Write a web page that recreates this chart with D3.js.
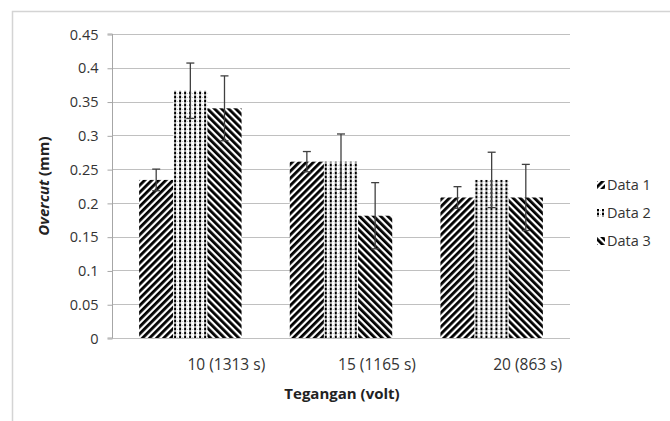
<!DOCTYPE html>
<html>
<head>
<meta charset="utf-8">
<script src="https://cdn.jsdelivr.net/npm/d3@7"></script>
<style>
  body { margin: 0; background: #fff; }
  text { font-family: "Open Sans", "Liberation Sans", sans-serif; }
</style>
</head>
<body>
<div id="chart"></div>
<script>
// chart data
const categories = ["10 (1313 s)", "15 (1165 s)", "20 (863 s)"];
const seriesNames = ["Data 1", "Data 2", "Data 3"];
const data1 = [0.234, 0.261, 0.208];
const data2 = [0.366, 0.261, 0.234];
const data3 = [0.340, 0.181, 0.208];
const err1 = [0.016, 0.015, 0.016];
const err2 = [0.041, 0.041, 0.041];
const err3 = [0.048, 0.049, 0.049];
const yTicks = [0, 0.05, 0.1, 0.15, 0.2, 0.25, 0.3, 0.35, 0.4, 0.45];

const width = 670, height = 421;
const plotLeft = 112, plotRight = 570, plotTop = 34, plotBottom = 338;

const svg = d3.select('#chart').append('svg')
    .attr('width', width).attr('height', height);

// patterns
const defs = svg.append('defs');
function stripes(id, angle) {
    const p = defs.append('pattern')
        .attr('id', id)
        .attr('patternUnits', 'userSpaceOnUse')
        .attr('width', 5).attr('height', 5)
        .attr('patternTransform', 'rotate(' + angle + ')');
    p.append('rect').attr('width', 5).attr('height', 5).attr('fill', '#fff');
    p.append('rect').attr('width', 2.8).attr('height', 5).attr('fill', '#000');
}
stripes('pat1', 45);
stripes('pat3', -45);
const p2 = defs.append('pattern')
    .attr('id', 'pat2')
    .attr('patternUnits', 'userSpaceOnUse')
    .attr('width', 5).attr('height', 4);
p2.append('rect').attr('width', 5).attr('height', 4).attr('fill', '#fff');
p2.append('rect').attr('x', 0).attr('y', 0).attr('width', 2).attr('height', 2).attr('fill', '#000');
p2.append('rect').attr('x', 0).attr('y', 2).attr('width', 2).attr('height', 2).attr('fill', '#999');
p2.append('rect').attr('x', 3).attr('y', 1).attr('width', 1).attr('height', 1).attr('fill', '#bbb');
const fills = ['url(#pat1)', 'url(#pat2)', 'url(#pat3)'];

// outer frame
svg.append('rect')
    .attr('x', 12.5).attr('y', 11.5)
    .attr('width', 700).attr('height', 500)
    .attr('fill', 'none').attr('stroke', '#d4d4d4').attr('stroke-width', 1.5);

const y = d3.scaleLinear().domain([0, 0.45]).range([plotBottom, plotTop]);
const x0 = d3.scaleBand().domain(categories).range([plotLeft, plotRight])
    .paddingInner(0.32).paddingOuter(0.18);
const x1 = d3.scaleBand().domain(seriesNames).range([0, x0.bandwidth()]);

// gridlines
svg.append('g').selectAll('line').data(yTicks).enter().append('line')
    .attr('x1', plotLeft).attr('x2', plotRight)
    .attr('y1', d => Math.round(y(d)) + 0.5).attr('y2', d => Math.round(y(d)) + 0.5)
    .attr('stroke', '#c0c0c0').attr('stroke-width', 1);

// y axis
const yAxis = svg.append('g')
    .attr('transform', 'translate(' + (plotLeft + 0.5) + ',0.5)')
    .call(d3.axisLeft(y).tickValues(yTicks).tickSize(5).tickPadding(9)
        .tickFormat(d => String(+d.toFixed(2))));
yAxis.select('.domain').attr('stroke', '#a6a6a6')
    .attr('d', 'M-5,' + (plotBottom - 0.5) + 'H0V' + (plotTop - 0.5) + 'H-5');
yAxis.selectAll('.tick line').attr('stroke', '#a6a6a6');
yAxis.selectAll('.tick text').attr('fill', '#333').style('font-size', '14.5px');

// bars
const rows = categories.map((c, i) => ({
    cat: c,
    vals: [
        { s: seriesNames[0], v: data1[i], e: err1[i], k: 0 },
        { s: seriesNames[1], v: data2[i], e: err2[i], k: 1 },
        { s: seriesNames[2], v: data3[i], e: err3[i], k: 2 }
    ]
}));

const groups = svg.append('g').selectAll('g').data(rows).enter().append('g')
    .attr('transform', d => 'translate(' + x0(d.cat) + ',0)');

groups.selectAll('rect').data(d => d.vals).enter().append('rect')
    .attr('x', d => x1(d.s))
    .attr('y', d => y(d.v))
    .attr('width', x1.bandwidth())
    .attr('height', d => y(0) - y(d.v))
    .attr('fill', d => fills[d.k]);

// error bars
const eb = groups.selectAll('g.err').data(d => d.vals).enter().append('g').attr('class', 'err')
    .attr('stroke', '#404040').attr('stroke-width', 1.3);
const cx = d => x1(d.s) + x1.bandwidth() / 2;
eb.append('line')
    .attr('x1', cx).attr('x2', cx)
    .attr('y1', d => y(d.v + d.e)).attr('y2', d => y(d.v - d.e));
eb.append('line')
    .attr('x1', d => cx(d) - 4).attr('x2', d => cx(d) + 4)
    .attr('y1', d => y(d.v + d.e)).attr('y2', d => y(d.v + d.e));
eb.append('line')
    .attr('x1', d => cx(d) - 4).attr('x2', d => cx(d) + 4)
    .attr('y1', d => y(d.v - d.e)).attr('y2', d => y(d.v - d.e));

// category labels
svg.append('g').selectAll('text').data(categories).enter().append('text')
    .attr('x', d => x0(d) + x0.bandwidth() / 2 + 36)
    .attr('y', 370)
    .attr('text-anchor', 'middle')
    .attr('fill', '#333')
    .style('font-size', '15.5px')
    .text(d => d);

// axis titles
svg.append('text')
    .attr('x', 342).attr('y', 399)
    .attr('text-anchor', 'middle')
    .attr('fill', '#222')
    .style('font-size', '15px').style('font-weight', 'bold')
    .text('Tegangan (volt)');

const yt = svg.append('text')
    .attr('transform', 'translate(49,186) rotate(-90)')
    .attr('text-anchor', 'middle')
    .attr('fill', '#222')
    .style('font-size', '15px').style('font-weight', 'bold');
yt.append('tspan').style('font-style', 'italic').text('Overcut');
yt.append('tspan').text(' (mm)');

// legend
const lg = svg.append('g').selectAll('g').data(seriesNames).enter().append('g')
    .attr('transform', (d, i) => 'translate(597,' + (185 + i * 28) + ')');
lg.append('rect')
    .attr('x', 0).attr('y', -4).attr('width', 8).attr('height', 8)
    .attr('fill', (d, i) => fills[i]);
lg.append('text')
    .attr('x', 10).attr('y', 5)
    .attr('fill', '#333')
    .style('font-size', '14.5px')
    .text(d => d);
</script>
</body>
</html>
